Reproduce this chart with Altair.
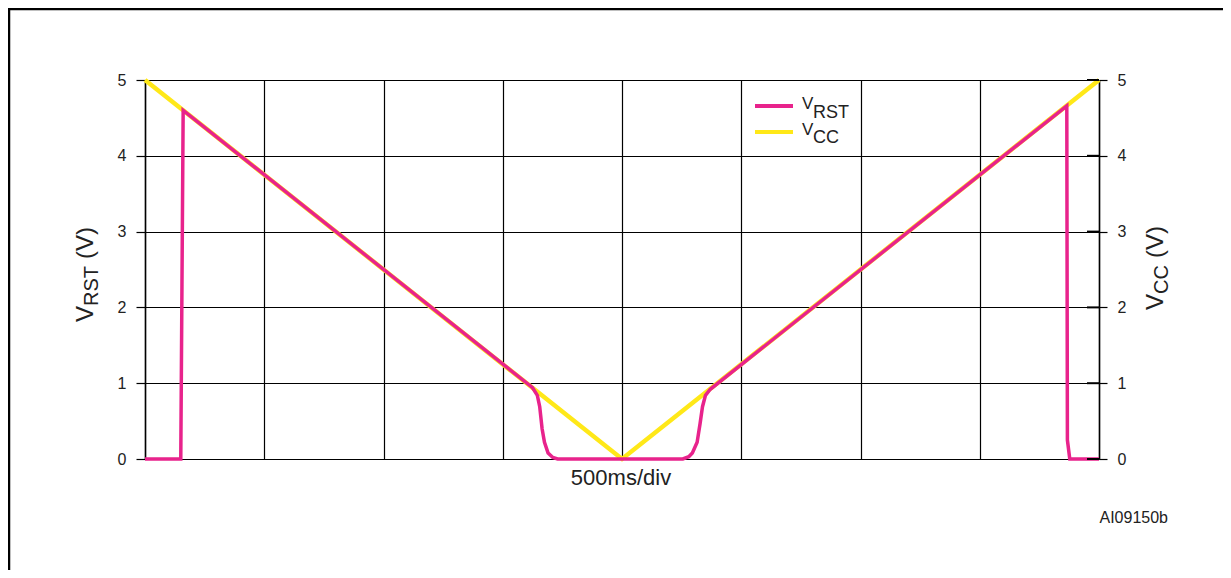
import altair as alt
import pandas as pd

FONT = "Liberation Sans"
INK = "#222222"
PINK = "#E8238C"
YELLOW = "#FFE818"
GRID = "#000000"

# ---- data (time in divisions of 500 ms, voltages in V) ----
t_div = [0, 1, 2, 3, 4, 5, 6, 7, 8]
y_ticks = [0, 1, 2, 3, 4, 5]

vcc_t = [0.0, 4.0, 8.0]
vcc_v = [5.0, 0.0, 5.0]

vrst_t = [0.0, 0.30, 0.31, 0.32, 3.25, 3.29, 3.31, 3.33, 3.35, 3.38, 3.42, 3.46,
          4.51, 4.56, 4.59, 4.63, 4.655, 4.675, 4.70, 4.74, 7.73, 7.735, 7.755, 8.0]
vrst_v = [0.0, 0.0, 2.3, 4.60, 0.94, 0.84, 0.69, 0.40, 0.22, 0.08, 0.02, 0.0,
          0.0, 0.03, 0.08, 0.22, 0.47, 0.69, 0.84, 0.92, 4.66, 0.25, 0.0, 0.0]

vcc_df = pd.DataFrame({"t": vcc_t, "v": vcc_v})
vrst_df = pd.DataFrame({"t": vrst_t, "v": vrst_v})
tick_df = pd.DataFrame({"v": y_ticks})

W, H = 954, 379
PAD = {"left": 137, "top": 72, "right": 124, "bottom": 111}

xscale = alt.Scale(domain=[0, 8], nice=False, zero=False)
yscale = alt.Scale(domain=[0, 5], nice=False)

x_axis = alt.Axis(values=t_div, grid=True, gridColor=GRID, gridWidth=1.2,
                  labels=False, ticks=False, domain=False, title=None)

left_axis = alt.Axis(orient="left", values=y_ticks, grid=True, gridColor=GRID,
                     gridWidth=1.2, tickSize=9, tickColor=GRID, tickWidth=1.2,
                     domainColor=GRID, domainWidth=1.5,
                     labelFont=FONT, labelFontSize=16, labelColor=INK,
                     labelPadding=10, title=None)
right_axis = alt.Axis(orient="right", values=y_ticks, grid=False, tickSize=8,
                      tickColor=GRID, tickWidth=1.2, domainColor=GRID,
                      domainWidth=1.5, labelFont=FONT, labelFontSize=16,
                      labelColor=INK, labelPadding=10, title=None)

vcc_line = alt.Chart(vcc_df).mark_line(color=YELLOW, strokeWidth=4.5).encode(
    x=alt.X("t:Q", scale=xscale, axis=x_axis),
    y=alt.Y("v:Q", scale=yscale, axis=right_axis),
)

vrst_line = alt.Chart(vrst_df).mark_line(color=PINK, strokeWidth=3.5).encode(
    x=alt.X("t:Q", scale=xscale, axis=x_axis),
    y=alt.Y("v:Q", scale=yscale, axis=left_axis),
)

inner_ticks = alt.Chart(tick_df).mark_rule(color=GRID, strokeWidth=2).encode(
    y=alt.Y("v:Q", scale=yscale, axis=None),
    x=alt.value(W - 12),
    x2=alt.value(W),
)

one = alt.Data(values=[{}])


def txt(text, x, y, size, angle=0, align="left", baseline="alphabetic"):
    return alt.Chart(one).mark_text(
        text=text, fontSize=size, angle=angle, align=align, baseline=baseline,
        font=FONT, color=INK,
    ).encode(x=alt.value(x), y=alt.value(y))


def hrule(x1, x2, y, color, width):
    return alt.Chart(one).mark_rule(color=color, strokeWidth=width).encode(
        x=alt.value(x1), x2=alt.value(x2), y=alt.value(y))


def vrule(x, y1, y2, color, width):
    return alt.Chart(one).mark_rule(color=color, strokeWidth=width).encode(
        x=alt.value(x), y=alt.value(y1), y2=alt.value(y2))


annotations = [
    # frame
    hrule(-137, 1078, -71, "#000000", 2.5),
    vrule(-136, -72, 495, "#000000", 2.5),
    # left axis title  V_RST (V)
    txt("V", -52, 242, 24, angle=270),
    txt("RST", -47, 226, 20, angle=270),
    txt("(V)", -52, 179, 24, angle=270),
    # right axis title  V_CC (V)
    txt("V", 1018, 230, 24, angle=270),
    txt("CC", 1023, 214, 20, angle=270),
    txt("(V)", 1018, 178, 24, angle=270),
    # legend
    hrule(610, 648, 26, PINK, 4),
    hrule(610, 648, 52, YELLOW, 4),
    txt("V", 657, 29, 17),
    txt("RST", 668, 38, 18),
    txt("V", 657, 55, 17),
    txt("CC", 668, 63, 18),
    # x caption and figure id
    txt("500ms/div", 476, 405, 22, align="center"),
    txt("AI09150b", 1023, 443, 16, align="right"),
]

chart = alt.layer(vcc_line, vrst_line, inner_ticks, *annotations).resolve_scale(
    y="independent"
).properties(
    width=W, height=H, padding=PAD,
    autosize=alt.AutoSizeParams(type="none"),
    background="white",
).configure_view(stroke=None)

chart.save("out.html", embed_options={"renderer": "svg", "actions": False})
